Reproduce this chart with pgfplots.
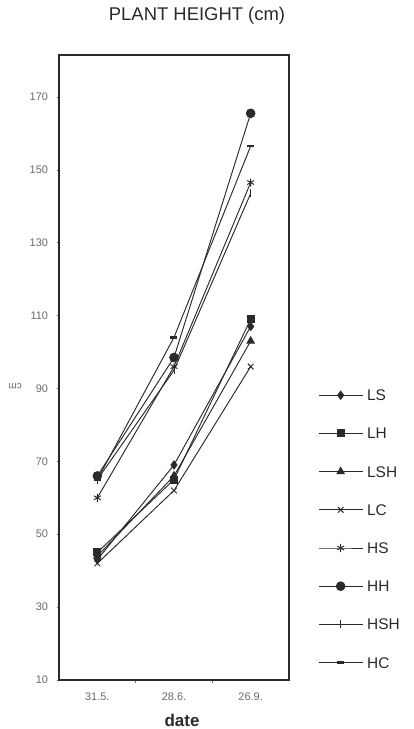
\documentclass[border=0pt]{standalone}
\usepackage{fontspec}
\setmainfont{Liberation Sans}
\usepackage{pgfplots}
\pgfplotsset{compat=1.18}
\definecolor{ink}{HTML}{2A2A2A}
\definecolor{lbl}{HTML}{6A6A6A}
\begin{document}
\begin{tikzpicture}
\useasboundingbox (0,0) rectangle (414bp,729bp);
\begin{axis}[
  at={(59bp,49bp)}, anchor=south west,
  scale only axis, width=230bp, height=625bp,
  xmin=-0.5, xmax=2.5, ymin=10, ymax=181.5,
  axis line style={ink, line width=1.1bp},
  xtick={0,1,2}, xticklabels={31.5.,28.6.,26.9.},
  major x tick style={draw=none},
  minor xtick={0.5,1.5}, minor tick length=3bp,
  minor x tick style={lbl, line width=0.5bp},
  ytick={10,30,...,170},
  major tick length=2.5bp, tick align=outside,
  ytick pos=left, xtick pos=bottom,
  y tick style={lbl, line width=0.5bp},
  /pgf/number format/assume math mode=true,
  tick label style={font=\fontsize{11}{12}\selectfont, text=lbl},
  yticklabel style={xshift=-5bp},
  xticklabel style={yshift=-7bp},
  xlabel={\bfseries date},
  xlabel style={at={(axis description cs:0.535,-0.064)}, anchor=center, font=\fontsize{17}{19}\selectfont, text=ink},
  ylabel={cm},
  ylabel style={at={(axis description cs:-0.19,0.47)}, anchor=center, rotate=90, font=\fontsize{10}{12}\selectfont, text=lbl},
  title={PLANT HEIGHT (cm)},
  title style={at={(axis description cs:0.6,1.053)}, anchor=center, font=\fontsize{18.5}{20}\selectfont, text=ink},
  every axis plot/.append style={ink, line width=0.95bp, mark options={solid, fill=ink}},
  legend style={draw=none, fill=none, inner sep=0pt, at={(axis description cs:1.126,0.4648)}, anchor=north west,
    nodes={inner sep=0pt, text height=11bp, text depth=0bp, font=\fontsize{15.5}{16}\selectfont, text=ink},
    row sep=27.2bp, column sep=4bp},
  legend cell align=left,
  legend image code/.code={\draw[mark repeat=2, mark phase=2] plot coordinates {(0bp,0bp) (22bp,0bp) (44bp,0bp)};},
]
\addplot[mark=diamond*, mark size=4bp] coordinates {(0,43) (1,69) (2,107)};
\addlegendentry{LS}
\addplot[mark=square*, mark size=3.5bp] coordinates {(0,45) (1,65) (2,109)};
\addlegendentry{LH}
\addplot[mark=triangle*, mark size=4.2bp] coordinates {(0,44) (1,66) (2,103)};
\addlegendentry{LSH}
\addplot[mark=x, mark size=4bp] coordinates {(0,42) (1,62) (2,96)};
\addlegendentry{LC}
\addplot[mark=asterisk, mark size=4bp] coordinates {(0,60) (1,96) (2,146.5)};
\addlegendentry{HS}
\addplot[mark=*, mark size=4.3bp] coordinates {(0,66) (1,98.5) (2,165.5)};
\addlegendentry{HH}
\addplot[mark=|, mark size=4bp] coordinates {(0,65) (1,95) (2,143.5)};
\addlegendentry{HSH}
\addplot[mark=-, mark size=3.5bp, mark options={line width=2.5bp}] coordinates {(0,65) (1,104) (2,156.5)};
\addlegendentry{HC}
\end{axis}
\end{tikzpicture}
\end{document}
